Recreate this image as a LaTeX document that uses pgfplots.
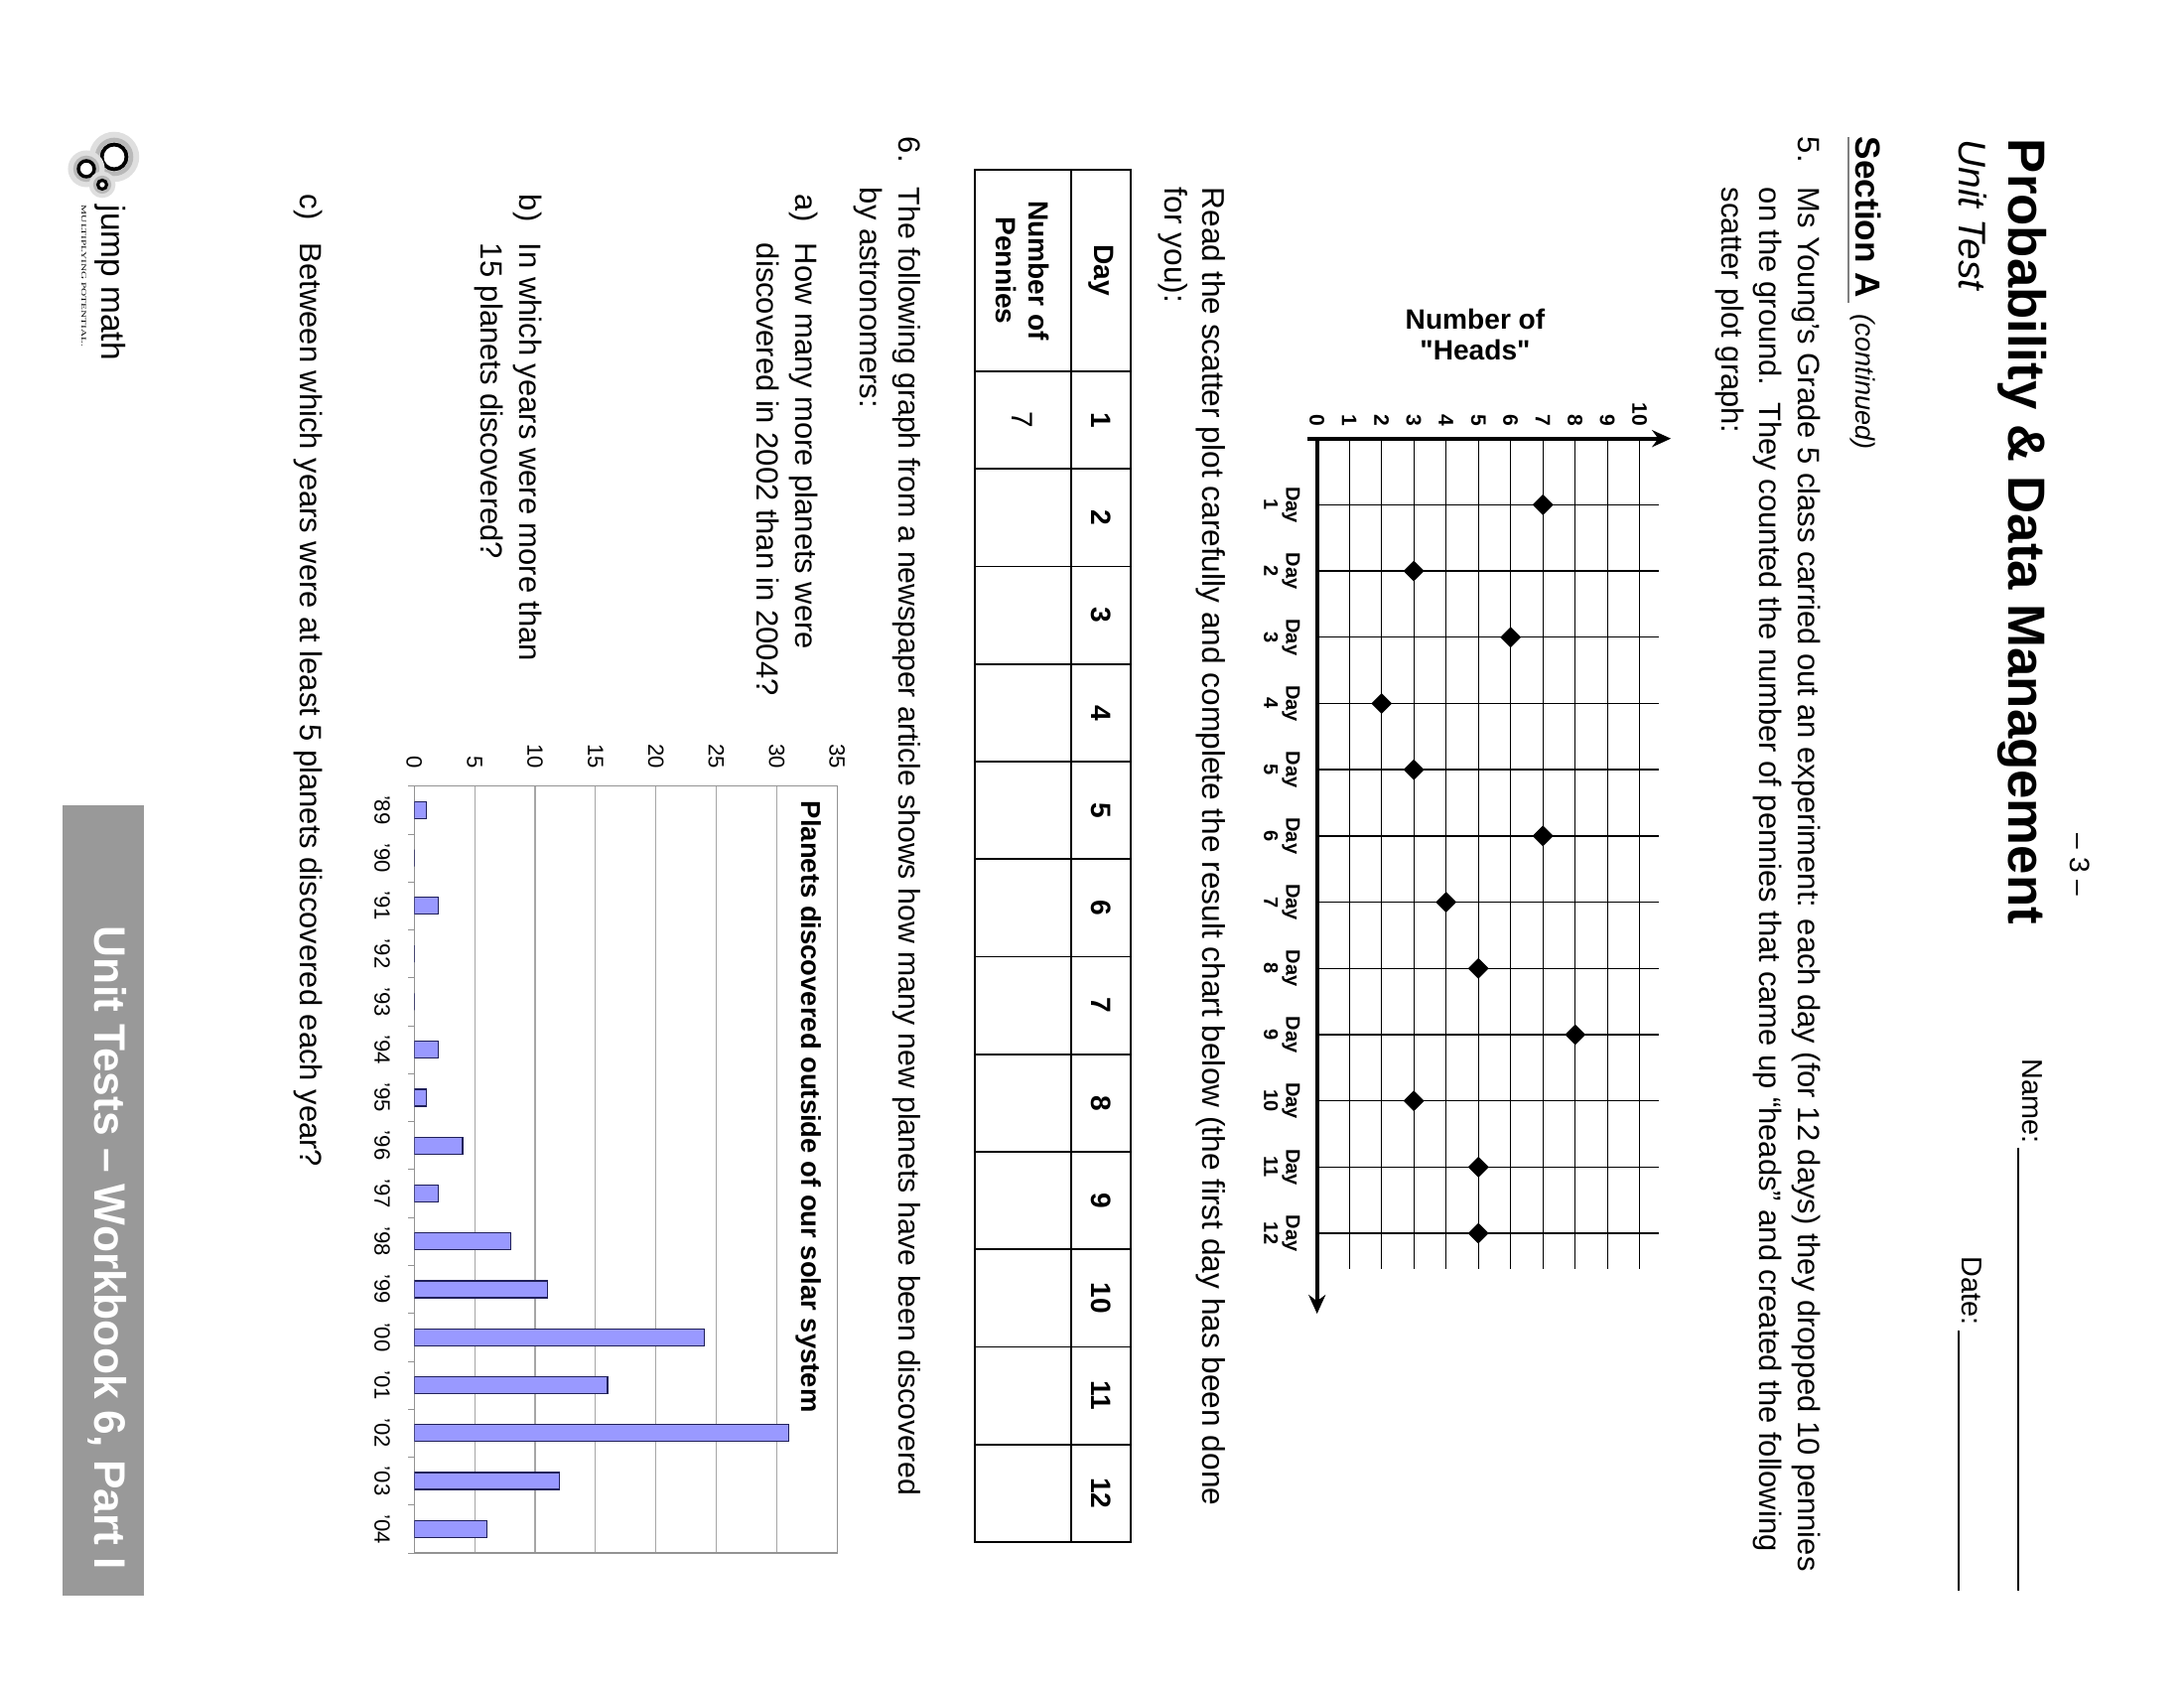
\documentclass[border=0pt]{standalone}
\usepackage{fontspec}
\setmainfont{Liberation Sans}
\newfontfamily\serifft{Liberation Serif}
\newfontfamily\qfont{Liberation Sans}[Ligatures=ResetAll]
\usepackage{graphicx}
\usepackage{pgfplots}
\pgfplotsset{compat=1.18}
\usetikzlibrary{arrows.meta}
\newcommand{\fs}[2]{\fontsize{#1}{#2}\selectfont}
\newcommand{\body}{\fs{8.8}{11}}
\definecolor{barfill}{HTML}{9999FF}
\definecolor{baredge}{HTML}{20205A}
\definecolor{bandgray}{HTML}{999999}
\pgfplotsset{/pgf/number format/assume math mode=true}
\begin{document}
\begin{tikzpicture}[x=0.1mm,y=-0.1mm,
  T/.style={rotate=-90,anchor=base west,inner sep=0pt,outer sep=0pt},
  C/.style={rotate=-90,anchor=center,inner sep=0pt,align=center}]
\path[fill=white,use as bounding box] (0,0) rectangle (2200,1700);

% ---------- header ----------
\node[T,font=\fs{8}{9}] at (2085,840) {– 3 –};
\node[T,font=\bfseries\fs{15}{17}] at (2023,140) {Probability \& Data Management};
\node[T,font=\itshape\fs{11}{13}] at (1973,141) {Unit Test};
\node[T,font=\fs{8.2}{10}] at (2037,1067) {Name:};
\draw[line width=0.5pt] (2033,1156) -- (2033,1602);
\node[T,font=\fs{8.2}{10}] at (1976,1266) {Date:};
\draw[line width=0.5pt] (1973,1340) -- (1973,1602);

% ---------- section A ----------
\node[T,font=\bfseries\fs{10}{12}] at (1869,138) {Section A};
\node[T,font=\itshape\fs{7.7}{9}] at (1869,317) {(continued)};
\draw[gray,line width=0.7pt] (1862,138) -- (1862,305);

\node[T,font=\body] at (1811,138) {5.};
\node[T,font=\body] at (1811,189) {Ms Young’s Grade 5 class carried out an experiment: each day (for 12 days) they dropped 10 pennies};
\node[T,font=\body] at (1772,189) {on the ground.\ \ They counted the number of pennies that came up “heads” and created the following};
\node[T,font=\body] at (1734,189) {scatter plot graph:};

% ---------- scatter plot ----------
\node[anchor=base,font=\qfont\bfseries\fs{8}{9},inner sep=0pt] at (1486,332) {Number of};
\node[anchor=base,font=\qfont\bfseries\fs{8}{9},inner sep=0pt] at (1486,363) {"Heads"};
\coordinate (sc) at (1326.7,441.7);
\begin{axis}[
  at={(sc)}, anchor=north west,
  scale only axis, width=34.45mm, height=83.64mm,
  xmin=0, xmax=10.6, ymin=0, ymax=12.54,
  y dir=reverse,
  axis x line=top, axis y line=left,
  axis line style={line width=1.1pt, black},
  x axis line style={-{Stealth[length=1.9mm,width=1.7mm]}, shorten >=-1.2mm, shorten <=-1mm},
  y axis line style={-{Stealth[length=1.9mm,width=1.7mm]}, shorten >=-4.5mm},
  xtick={0,...,10}, ytick={1,...,12},
  yticklabels={Day\\1,Day\\2,Day\\3,Day\\4,Day\\5,Day\\6,Day\\7,Day\\8,Day\\9,Day\\10,Day\\11,Day\\12},
  grid=major, major grid style={black, line width=0.4pt},
  major tick length=0pt,
  xticklabel style={rotate=-90, anchor=east, font=\bfseries\fs{6}{7}},
  yticklabel style={rotate=-90, anchor=north, align=center, font=\bfseries\fs{5.7}{6.3}},
  yticklabel shift=0.5mm,
  clip=false,
]
\addplot[only marks, mark=square*, mark size=1.9pt, mark options={rotate=45, fill=black, draw=black}]
  coordinates {(7,1) (3,2) (6,3) (2,4) (3,5) (7,6) (4,7) (5,8) (8,9) (3,10) (5,11) (5,12)};
\end{axis}

\node[T,font=\fs{9}{11}] at (1211,189) {Read the scatter plot carefully and complete the result chart below (the first day has been done};
\node[T,font=\fs{9}{11}] at (1173,189) {for you):};

% ---------- table ----------
\draw[line width=0.45pt] (982,171) rectangle (1139,1553);
\draw[line width=0.45pt] (1079,171) -- (1079,1553);
\foreach \i in {0,...,11} \draw[line width=0.45pt] (982,{374+98.25*\i}) -- (1139,{374+98.25*\i});
\node[C,font=\bfseries\fs{8}{9.5}] at (1109,272.5) {Day};
\node[C,font=\bfseries\fs{8}{9.5}] at (1030,272.5) {Number of\\Pennies};
\foreach \i in {1,...,12} \node[C,font=\bfseries\fs{8}{9.5}] at (1109,{374+98.25*(\i-0.5)}) {\i};
\node[C,font=\fs{8.5}{9.5}] at (1030,423.1) {7};

% ---------- question 6 ----------
\node[T,font=\body] at (905,138) {6.};
\node[T,font=\fs{8.6}{11}] at (905,189) {The following graph from a newspaper article shows how many new planets have been discovered};
\node[T,font=\body] at (866,189) {by astronomers:};
\node[T,font=\body] at (801,196) {a)};
\node[T,font=\body] at (801,245) {How many more planets were};
\node[T,font=\body] at (762,245) {discovered in 2002 than in 2004?};
\node[T,font=\body] at (523,196) {b)};
\node[T,font=\body] at (523,245) {In which years were more than};
\node[T,font=\body] at (484,245) {15 planets discovered?};
\node[T,font=\body] at (302,196) {c)};
\node[T,font=\body] at (302,245) {Between which years were at least 5 planets discovered each year?};

% ---------- bar chart ----------
\node[T,font=\bfseries\fs{7.8}{9}] at (807,807) {Planets discovered outside of our solar system};
\coordinate (bc) at (417.3,791.7);
\begin{axis}[
  at={(bc)}, anchor=north west,
  scale only axis, width=42.6mm, height=77.23mm,
  xmin=0, xmax=35, ymin=-0.5, ymax=15.5, y dir=reverse,
  xbar, bar width=1.7mm,
  axis line style={gray!85},
  xtick={0,5,...,35}, ytick={0,...,15},
  yticklabels={'89,'90,'91,'92,'93,'94,'95,'96,'97,'98,'99,'00,'01,'02,'03,'04},
  minor ytick={-0.5,0.5,...,15.5},
  major tick length=0pt, minor tick length=0.6mm,
  tick align=outside, ytick pos=left, xtick pos=upper, xticklabel pos=upper,
  minor tick style={gray!85},
  xmajorgrids, major grid style={gray!70, line width=0.35pt},
  xticklabel style={rotate=-90, anchor=east, font=\fs{6.3}{7}},
  xticklabel shift=0.5mm,
  yticklabel style={rotate=-90, anchor=north, font=\fs{6.3}{7}},
  yticklabel shift=1.2mm,
]
\addplot[fill=barfill, draw=baredge, line width=0.35pt]
  coordinates {(1,0) (0,1) (2,2) (0,3) (0,4) (2,5) (1,6) (4,7) (2,8) (8,9) (11,10) (24,11) (16,12) (31,13) (12,14) (6,15)};
\end{axis}

% ---------- logo ----------
\foreach \r/\c/\w in {21/gray!25/2.4, 17/gray!55/1.3, 12.5/black/1.1} \draw[\c,line width=\w pt] (115,158) circle (\r);
\foreach \r/\c/\w in {15/gray!25/2.0, 11.5/gray!55/1.0, 8/black/1.0} \draw[\c,line width=\w pt] (87,170) circle (\r);
\foreach \r/\c/\w in {10.5/gray!25/1.6, 7.5/gray!55/0.9, 4.5/black/0.9} \draw[\c,line width=\w pt] (103,186) circle (\r);
\node[T,font=\fs{9.5}{10}] at (102,207) {jump math};
\node[T,font=\serifft\fs{2}{2.5}] at (82,207) {\scalebox{1.6}[1]{MULTIPLYING POTENTIAL.}};

% ---------- side band ----------
\fill[bandgray] (63,811) rectangle (145,1607);
\node[T,text=white,font=\bfseries\fs{12.6}{14}] at (95,933) {Unit Tests – Workbook 6, Part I};
\end{tikzpicture}
\end{document}
